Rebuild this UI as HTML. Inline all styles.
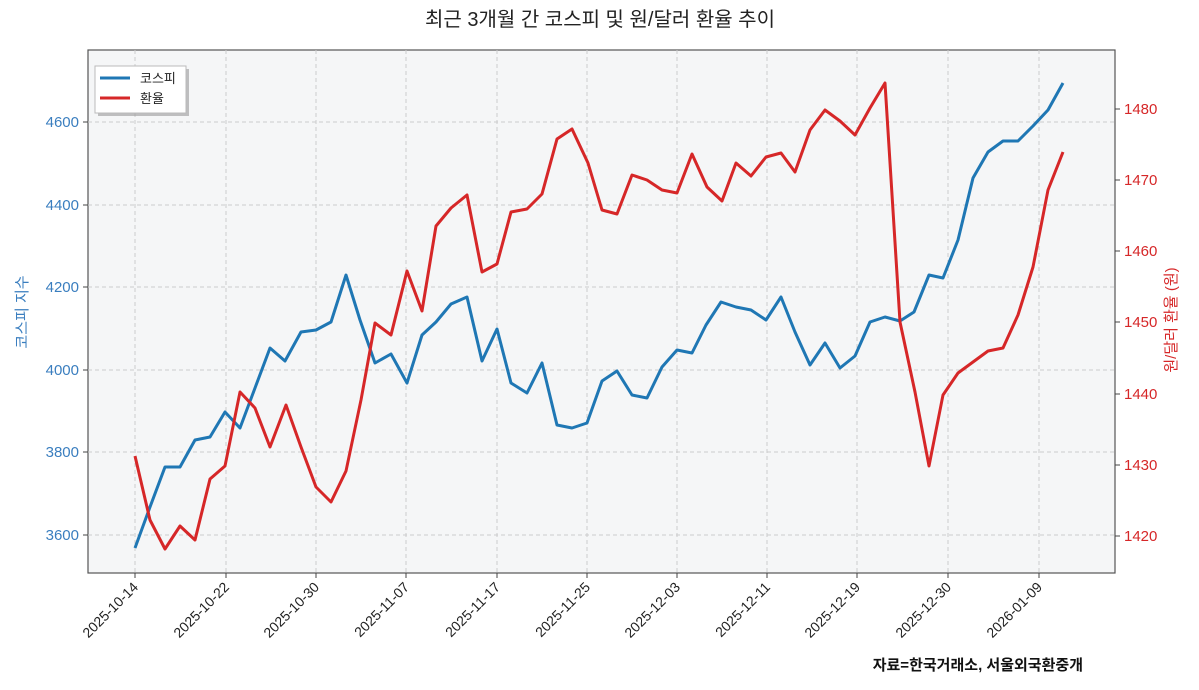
<!DOCTYPE html>
<html><head><meta charset="utf-8"><style>
body{margin:0;background:#fff;}
svg text{font-family:"Liberation Sans","Noto Sans CJK KR",sans-serif;}
</style></head><body>
<svg width="1199" height="685" viewBox="0 0 1199 685" xmlns="http://www.w3.org/2000/svg">
<rect width="1199" height="685" fill="#fff"/>
<text x="600" y="26" font-size="20" text-anchor="middle" fill="#222">최근 3개월 간 코스피 및 원/달러 환율 추이</text>
<rect x="88" y="50" width="1027" height="523" fill="#f5f6f7" stroke="#555" stroke-width="1.2"/>
<g stroke="#ccc" stroke-dasharray="4,3" stroke-width="1">
<line x1="88" x2="1115" y1="122" y2="122"/><line x1="88" x2="1115" y1="205" y2="205"/><line x1="88" x2="1115" y1="287" y2="287"/><line x1="88" x2="1115" y1="370" y2="370"/><line x1="88" x2="1115" y1="452" y2="452"/><line x1="88" x2="1115" y1="535" y2="535"/>
<line y1="50" y2="573" x1="135" x2="135"/><line y1="50" y2="573" x1="226" x2="226"/><line y1="50" y2="573" x1="316" x2="316"/><line y1="50" y2="573" x1="406" x2="406"/><line y1="50" y2="573" x1="497" x2="497"/><line y1="50" y2="573" x1="587" x2="587"/><line y1="50" y2="573" x1="677" x2="677"/><line y1="50" y2="573" x1="767" x2="767"/><line y1="50" y2="573" x1="857" x2="857"/><line y1="50" y2="573" x1="948" x2="948"/><line y1="50" y2="573" x1="1039" x2="1039"/>
</g>
<g stroke="#444" stroke-width="1">
<line x1="83" x2="88" y1="122" y2="122"/><line x1="83" x2="88" y1="205" y2="205"/><line x1="83" x2="88" y1="287" y2="287"/><line x1="83" x2="88" y1="370" y2="370"/><line x1="83" x2="88" y1="452" y2="452"/><line x1="83" x2="88" y1="535" y2="535"/>
<line x1="1115" x2="1120" y1="109" y2="109"/><line x1="1115" x2="1120" y1="180" y2="180"/><line x1="1115" x2="1120" y1="251" y2="251"/><line x1="1115" x2="1120" y1="322" y2="322"/><line x1="1115" x2="1120" y1="394" y2="394"/><line x1="1115" x2="1120" y1="465" y2="465"/><line x1="1115" x2="1120" y1="536" y2="536"/>
<line y1="573" y2="578" x1="135" x2="135"/><line y1="573" y2="578" x1="226" x2="226"/><line y1="573" y2="578" x1="316" x2="316"/><line y1="573" y2="578" x1="406" x2="406"/><line y1="573" y2="578" x1="497" x2="497"/><line y1="573" y2="578" x1="587" x2="587"/><line y1="573" y2="578" x1="677" x2="677"/><line y1="573" y2="578" x1="767" x2="767"/><line y1="573" y2="578" x1="857" x2="857"/><line y1="573" y2="578" x1="948" x2="948"/><line y1="573" y2="578" x1="1039" x2="1039"/>
</g>
<g font-size="15" fill="#3a7ebf" text-anchor="end">
<text x="79" y="127">4600</text><text x="79" y="210">4400</text><text x="79" y="292">4200</text><text x="79" y="375">4000</text><text x="79" y="457">3800</text><text x="79" y="540">3600</text>
</g>
<g font-size="15" fill="#d62728">
<text x="1124" y="114">1480</text><text x="1124" y="185">1470</text><text x="1124" y="256">1460</text><text x="1124" y="327">1450</text><text x="1124" y="399">1440</text><text x="1124" y="470">1430</text><text x="1124" y="541">1420</text>
</g>
<text transform="translate(27,312) rotate(-90)" font-size="15" fill="#3a7ebf" text-anchor="middle">코스피 지수</text>
<text transform="translate(1176,320) rotate(-90)" font-size="15" fill="#d62728" text-anchor="middle">원/달러 환율 (원)</text>
<g font-size="14" fill="#222" text-anchor="end">
<text transform="translate(139,588) rotate(-45)">2025-10-14</text>
<text transform="translate(230,588) rotate(-45)">2025-10-22</text>
<text transform="translate(320,588) rotate(-45)">2025-10-30</text>
<text transform="translate(410,588) rotate(-45)">2025-11-07</text>
<text transform="translate(501,588) rotate(-45)">2025-11-17</text>
<text transform="translate(591,588) rotate(-45)">2025-11-25</text>
<text transform="translate(681,588) rotate(-45)">2025-12-03</text>
<text transform="translate(771,588) rotate(-45)">2025-12-11</text>
<text transform="translate(861,588) rotate(-45)">2025-12-19</text>
<text transform="translate(952,588) rotate(-45)">2025-12-30</text>
<text transform="translate(1043,588) rotate(-45)">2026-01-09</text>
</g>
<polyline fill="none" stroke="#1f77b4" stroke-width="3" stroke-linejoin="round" points="135,548 150,507 165,467 180,467 195,440 210,437 225,412 240,428 255,388 270,348 285,361 301,332 316,330 331,322 346,275 360,320 375,363 391,354 407,383 422,335 436,322 451,304 467,297 482,361 497,329 511,383 527,393 542,363 557,425 572,428 587,423 602,381 617,371 632,395 647,398 662,367 677,350 692,353 706,325 721,302 736,307 751,310 766,320 781,297 795,332 810,365 825,343 840,368 855,356 870,322 885,317 900,321 914,312 929,275 943,278 958,240 973,178 988,152 1003,141 1018,141 1033,126 1048,110 1063,83"/>
<polyline fill="none" stroke="#d62728" stroke-width="3" stroke-linejoin="round" points="135,456 150,520 165,549 180,526 195,540 210,479 225,466 240,392 255,408 270,447 286,405 301,447 316,487 331,502 346,471 361,400 375,323 391,335 407,271 422,311 436,226 451,208 467,195 482,272 497,264 511,212 527,209 542,194 557,139 572,129 588,163 602,210 617,214 632,175 647,180 662,190 677,193 692,154 707,187 722,201 736,163 751,176 766,157 781,153 795,172 810,130 825,110 840,121 855,135 870,108 885,83 900,322 915,392 929,466 943,395 958,373 973,362 988,351 1003,348 1018,315 1033,267 1048,190 1063,152"/>
<rect x="98" y="69" width="91" height="47" fill="#999" opacity="0.6"/>
<rect x="95" y="66" width="91" height="47" fill="#fff" stroke="#bbb"/>
<line x1="100" x2="130" y1="78" y2="78" stroke="#1f77b4" stroke-width="3"/>
<line x1="100" x2="130" y1="98" y2="98" stroke="#d62728" stroke-width="3"/>
<text x="140" y="83" font-size="13" fill="#222">코스피</text>
<text x="140" y="103" font-size="13" fill="#222">환율</text>
<text x="1083" y="670" font-size="15" font-weight="bold" fill="#111" text-anchor="end">자료=한국거래소, 서울외국환중개</text>
</svg>
</body></html>
